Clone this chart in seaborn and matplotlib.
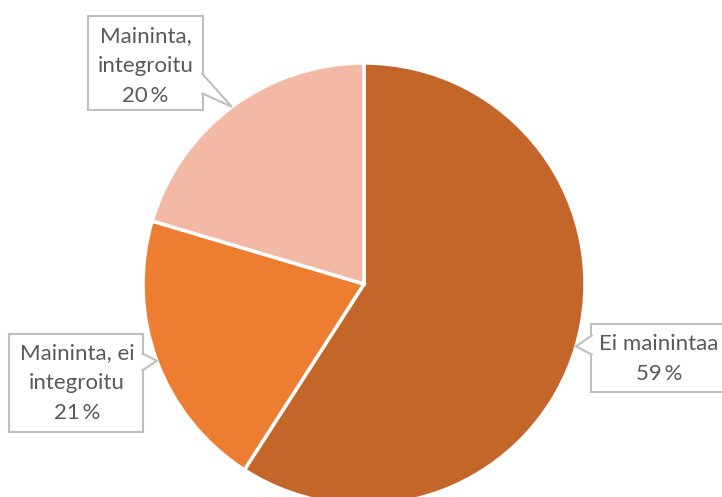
import matplotlib
matplotlib.use("Agg")
import matplotlib.pyplot as plt
import seaborn as sns
import numpy as np
from matplotlib.patches import Rectangle, Polygon

# ---- data ----
categories = ["Ei mainintaa", "Maininta, ei\nintegroitu", "Maininta,\nintegroitu"]
values = [59.1, 20.5, 20.4]
pct_labels = ["59\u2009%", "21\u2009%", "20\u2009%"]
colors = ["#C4662A", "#ED7D31", "#F4B9A5"]

sns.set_theme(style="white")
plt.rcParams["font.family"] = ["Lato", "DejaVu Sans"]

W, H = 722, 497
fig = plt.figure(figsize=(W / 100, H / 100), dpi=100)
ax = fig.add_axes([0, 0, 1, 1])

def py(y):
    return H - y

cx, cy, R = 364, py(284), 221
wedges, _ = ax.pie(values, colors=colors, startangle=90, counterclock=False,
                   center=(cx, cy), radius=R, frame=True,
                   wedgeprops=dict(edgecolor="white", linewidth=2.5))
ax.set_xlim(0, W)
ax.set_ylim(0, H)
ax.axis("off")

text_color = "#595959"
edge_color = "#BFBFBF"

# label boxes: (x0, y0, x1, y1) in pixels, text center, pointer base (side, b1, b2)
boxes = [
    dict(box=(591, 324, 740, 392), tc=(659, 359), base=("left", 335, 355)),
    dict(box=(9, 334, 143, 432), tc=(77, 383), base=("right", 353, 371)),
    dict(box=(88, 16, 203, 110), tc=(145.5, 66), base=("right", 73, 93)),
]

for w, cat, pl, b in zip(wedges, categories, pct_labels, boxes):
    mid = np.deg2rad((w.theta1 + w.theta2) / 2)
    tip = (cx + R * np.cos(mid), cy + R * np.sin(mid))
    x0, y0, x1, y1 = b["box"]
    rect = Rectangle((x0, py(y1)), x1 - x0, y1 - y0, facecolor="white",
                     edgecolor=edge_color, linewidth=1.5, zorder=5)
    ax.add_patch(rect)
    side, b1, b2 = b["base"]
    if side == "left":
        bx, inset = x0, 1.5
    else:
        bx, inset = x1, -1.5
    poly = Polygon([(bx + inset, py(b1)), tip, (bx + inset, py(b2))], closed=False,
                   facecolor="white", edgecolor=edge_color, linewidth=1.5, zorder=6)
    ax.add_patch(poly)
    ax.text(b["tc"][0], py(b["tc"][1]), f"{cat}\n{pl}", ha="center", va="center",
            fontsize=16, color=text_color, linespacing=1.6, zorder=7)

fig.savefig("out.png", dpi=100)
